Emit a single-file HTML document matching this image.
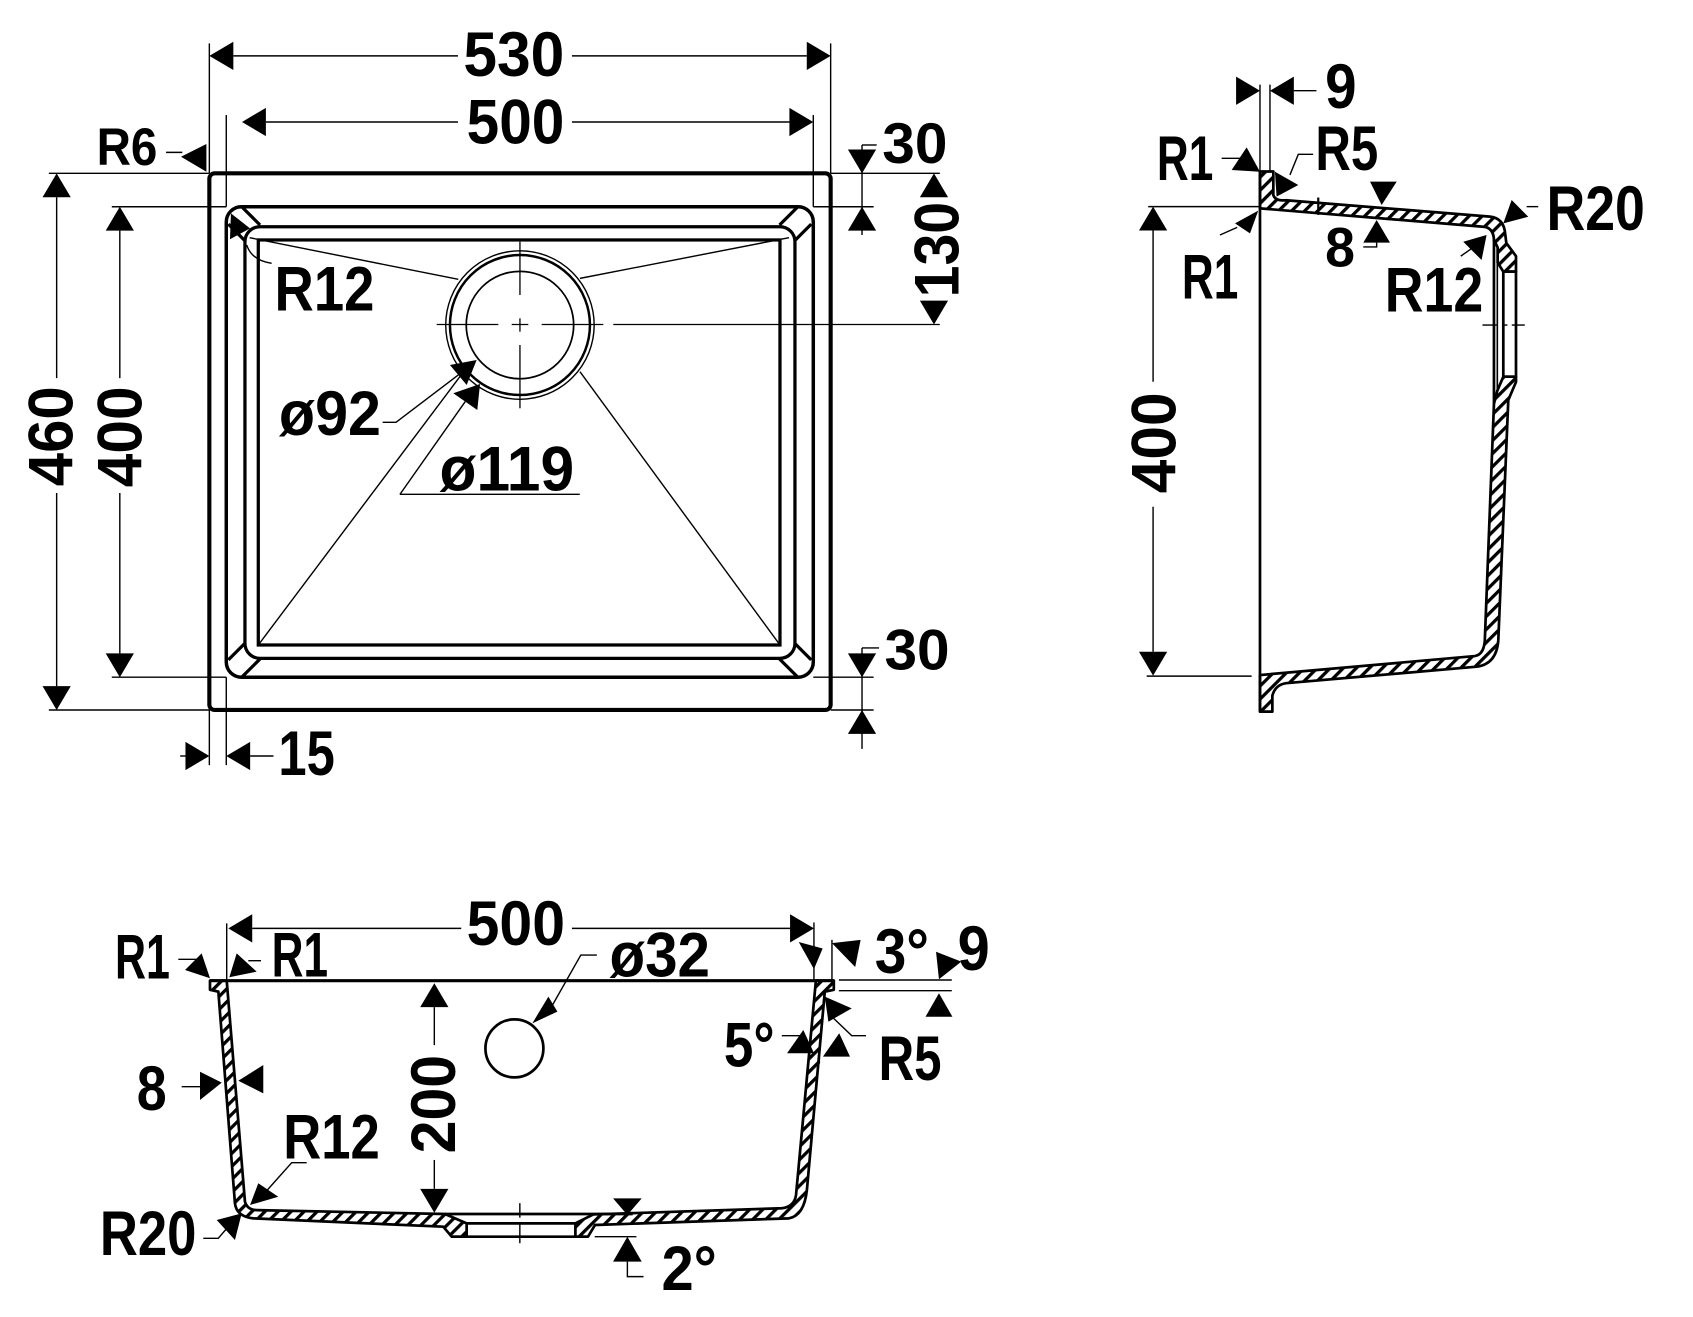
<!DOCTYPE html>
<html><head><meta charset="utf-8"><style>html,body{margin:0;padding:0;background:#fff}svg{display:block}</style></head><body>
<svg width="1693" height="1317" viewBox="0 0 1560 1213.5" preserveAspectRatio="none" xmlns="http://www.w3.org/2000/svg">
<defs><pattern id="h" width="8.5" height="8.5" patternUnits="userSpaceOnUse" patternTransform="rotate(45)"><rect x="0" y="0" width="3" height="8.5" fill="#000"/></pattern></defs>
<rect width="1560" height="1213.5" fill="#fff"/>

<!-- ================= TOP VIEW ================= -->
<g fill="none" stroke="#000">
<rect x="192.9" y="159.7" width="572.5" height="494.5" rx="5" stroke-width="3.8"/>
<rect x="208.5" y="190.5" width="540.9" height="433.5" rx="14" stroke-width="3.2"/>
<rect x="225.7" y="208.9" width="506.8" height="397.7" rx="13.8" stroke-width="3"/>
<rect x="238" y="221.1" width="480.7" height="373.2" stroke-width="3"/>
<g stroke-width="3">
<line x1="210.4" y1="608" x2="225.7" y2="592.7"/><line x1="222.7" y1="624" x2="239.6" y2="607.2"/>
<line x1="210.4" y1="206.5" x2="225.7" y2="221.8"/><line x1="222.7" y1="190.5" x2="239.6" y2="207.3"/>
<line x1="747.5" y1="608" x2="732.2" y2="592.7"/><line x1="735.2" y1="624" x2="718.3" y2="607.2"/>
<line x1="747.5" y1="206.5" x2="732.2" y2="221.8"/><line x1="735.2" y1="190.5" x2="718.3" y2="207.3"/>
</g>
<g stroke-width="1.3">
<line x1="230" y1="219" x2="422.3" y2="257.4"/>
<line x1="727" y1="219" x2="534.4" y2="256.5"/>
<line x1="238" y1="594.3" x2="429.2" y2="339.8"/>
<line x1="718.7" y1="594.3" x2="534.4" y2="342.5"/>
<circle cx="479.1" cy="299.5" r="68.4"/>
<circle cx="479.1" cy="299.5" r="49.5" stroke-width="1.6"/>
</g>
<circle cx="479.1" cy="299.5" r="64.5" stroke-width="2.3"/>
<g stroke-width="1.2">
<line x1="402.4" y1="299" x2="459.2" y2="299"/><line x1="471.5" y1="299" x2="486.8" y2="299"/>
<line x1="499.1" y1="299" x2="555.9" y2="299"/><line x1="565.1" y1="299" x2="866" y2="299"/>
<line x1="479.1" y1="222.7" x2="479.1" y2="271.8"/><line x1="479.1" y1="293.3" x2="479.1" y2="305.6"/>
<line x1="479.1" y1="317.9" x2="479.1" y2="376.2"/>
</g>
<!-- dimension lines -->
<g stroke-width="1.3">
<line x1="215" y1="51.5" x2="422" y2="51.5"/><line x1="527" y1="51.5" x2="743.4" y2="51.5"/>
<line x1="192.9" y1="40" x2="192.9" y2="159.7"/><line x1="765.4" y1="40" x2="765.4" y2="159.7"/>
<line x1="245" y1="112.4" x2="422" y2="112.4"/><line x1="527" y1="112.4" x2="727.4" y2="112.4"/>
<line x1="208.5" y1="106" x2="208.5" y2="190.5"/><line x1="749.4" y1="106" x2="749.4" y2="190.5"/>
<line x1="153" y1="140.4" x2="168" y2="140.4"/>
<line x1="52.2" y1="181.7" x2="52.2" y2="348.4"/><line x1="52.2" y1="454.3" x2="52.2" y2="632.2"/>
<line x1="45" y1="159.7" x2="192.9" y2="159.7"/><line x1="45" y1="654.2" x2="192.9" y2="654.2"/>
<line x1="110.4" y1="212.5" x2="110.4" y2="348.4"/><line x1="110.4" y1="454.3" x2="110.4" y2="602"/>
<line x1="103" y1="190.5" x2="208.5" y2="190.5"/><line x1="103" y1="624" x2="208.5" y2="624"/>
<line x1="794.3" y1="133.6" x2="794.3" y2="216.5"/><line x1="794.3" y1="133.6" x2="807.8" y2="133.6"/>
<line x1="765.4" y1="159.7" x2="866" y2="159.7"/><line x1="749.4" y1="190.5" x2="805" y2="190.5"/>
<line x1="794.3" y1="597" x2="794.3" y2="690"/><line x1="794.3" y1="597" x2="810" y2="597"/>
<line x1="749.4" y1="624" x2="805" y2="624"/><line x1="765.4" y1="654.2" x2="805" y2="654.2"/>
<line x1="192.9" y1="654.2" x2="192.9" y2="705"/><line x1="208.5" y1="624" x2="208.5" y2="705"/>
<line x1="166" y1="696.6" x2="171" y2="696.6"/><line x1="230.5" y1="696.6" x2="252" y2="696.6"/>
<path d="M227.3,225.7 Q232,240 250.3,242.6"/>
<polyline points="352.6,389.1 364.9,389.1 422.3,345.5"/>
<line x1="368.5" y1="455.5" x2="534.2" y2="455.5"/><line x1="368.5" y1="455.5" x2="428.7" y2="370"/>
</g>
</g>
<g fill="#000">
<polygon points="192.9,51.5 215,38.5 215,64.5"/><polygon points="765.4,51.5 743.4,38.5 743.4,64.5"/>
<polygon points="223,112.4 245,99.4 245,125.4"/><polygon points="749.4,112.4 727.4,99.4 727.4,125.4"/>
<polygon points="166.8,144.4 190.2,132.7 190.2,158.2"/>
<polygon points="52.2,159.7 39.2,181.7 65.2,181.7"/><polygon points="52.2,654.2 39.2,632.2 65.2,632.2"/>
<polygon points="110.4,190.5 97.4,212.5 123.4,212.5"/><polygon points="110.4,624 97.4,602 123.4,602"/>
<polygon points="794.3,159.7 781.3,137.7 807.3,137.7"/><polygon points="794.3,190.5 781.3,212.5 807.3,212.5"/>
<polygon points="860.6,159.7 847.6,181.7 873.6,181.7"/><polygon points="860.6,299 847.6,277 873.6,277"/>
<polygon points="794.3,624 781.3,602 807.3,602"/><polygon points="794.3,654.2 781.3,676.2 807.3,676.2"/>
<polygon points="192.9,696.6 170.9,683.6 170.9,709.6"/><polygon points="208.5,696.6 230.5,683.6 230.5,709.6"/>
<polygon points="212.8,196.6 230.4,210.4 211.9,220.5"/>
<polygon points="439.2,331.7 414.6,336.3 430,354.7"/>
<polygon points="442.3,353.8 417.7,362.4 439.8,377.8"/>
</g>

<!-- ================= SIDE VIEW ================= -->
<g stroke="#000" stroke-width="2.5" stroke-linejoin="round">
<path fill="url(#h)" d="M1161,158 L1173.3,158 L1173.3,179.7 Q1175,185.5 1185,184.5 L1372.9,199.6 Q1386,201 1387,216 L1388,224 L1396.9,236 L1396.9,250.3 L1385.2,250.3 L1380,242 L1380,228 L1376.6,221 Q1376,209.5 1366.7,208.9 L1161,192 Z"/>
<path fill="url(#h)" d="M1376.6,372 L1379.7,360 L1385.2,347.1 L1396.9,347.1 L1396.9,352 L1389.8,368.6 L1380.6,590 Q1379,612 1360.6,614.3 L1185,629.5 Q1175,631 1172.4,641 L1172.4,655.7 L1161,655.7 L1161,622 L1359,604.5 Q1368.3,603 1368.3,586.6 Z"/>
<rect x="1385.2" y="250.3" width="11.7" height="96.8" fill="none"/>
<line x1="1161" y1="158" x2="1161" y2="655.7"/>
<line x1="1376.6" y1="221" x2="1376.6" y2="372"/>
<line x1="1379.7" y1="240" x2="1379.7" y2="360" stroke-width="1.5"/>
</g>
<g fill="none" stroke="#000" stroke-width="1.3">
<line x1="1214.7" y1="182" x2="1214.7" y2="198" stroke-width="2"/>
<line x1="1366" y1="299.5" x2="1380" y2="299.5"/><line x1="1384" y1="299.5" x2="1389" y2="299.5"/><line x1="1393" y1="299.5" x2="1405" y2="299.5"/>
<line x1="1161" y1="78" x2="1161" y2="158"/><line x1="1170.2" y1="78" x2="1170.2" y2="158"/>
<line x1="1192.2" y1="83.6" x2="1213" y2="83.6"/>
<line x1="1125.7" y1="145.9" x2="1142.6" y2="145.9"/>
<polyline points="1210,142.2 1196.3,142.2 1188.6,161.2"/>
<polyline points="1256.2,227.5 1268.5,227.5 1268.5,223.6"/>
<line x1="1417.4" y1="190.4" x2="1406.7" y2="190.4"/>
<line x1="1346" y1="236" x2="1356" y2="229"/>
<line x1="1124.1" y1="216.5" x2="1140" y2="209.5"/>
<line x1="1062.5" y1="212.4" x2="1062.5" y2="351.7"/><line x1="1062.5" y1="466.9" x2="1062.5" y2="600.5"/>
<line x1="1058" y1="190.4" x2="1161" y2="190.4"/><line x1="1056.6" y1="623" x2="1153.3" y2="623"/>
</g>
<g fill="#000">
<polygon points="1161,83.6 1139,70.6 1139,96.6"/><polygon points="1170.2,83.6 1192.2,70.6 1192.2,96.6"/>
<polygon points="1134.9,156.6 1148.7,135.8 1161,158.2"/>
<polygon points="1174.8,158.2 1196.3,170.5 1176.3,181.2"/>
<polygon points="1273.1,188.9 1262.4,167.4 1287,167.4"/>
<polygon points="1268.5,202.7 1256.2,223.6 1280.8,223.6"/>
<polygon points="1385.2,205.8 1392.9,184.3 1408.2,199.7"/>
<polygon points="1369.8,216.5 1348.3,222.7 1365.2,239.6"/>
<polygon points="1159.4,194.1 1138,205.8 1151.8,215"/>
<polygon points="1062.5,190.4 1049.5,212.4 1075.5,212.4"/><polygon points="1062.5,622.5 1049.5,600.5 1075.5,600.5"/>
</g>

<!-- ================= FRONT SECTION ================= -->
<g stroke="#000" stroke-width="2.5" stroke-linejoin="round">
<line x1="193.5" y1="903.6" x2="768.3" y2="903.6" stroke-width="2.8"/>
<path fill="url(#h)" d="M193.5,903.6 L208.9,903.6 L225.7,1107.2 Q228,1115 236.5,1115 L410,1118.6 L430,1127.2 L430,1139.5 L416.2,1139.5 L408.5,1130.3 L233.4,1122.6 Q218,1121 216.5,1108.8 L201.2,913.7 L193.5,912 Z"/>
<path fill="url(#h)" d="M751.8,903.6 L768.3,903.6 L768.3,912 L760,913.7 L743.5,1096.5 Q741,1120 727,1122.6 L548.3,1128.7 L541.8,1139.5 L530.2,1139.5 L530.2,1127.2 L546.7,1119 L720.3,1113.3 Q732,1112 733.5,1101 Z"/>
<line x1="410" y1="1118.6" x2="583" y2="1118.6"/>
<line x1="430" y1="1127.2" x2="530.2" y2="1127.2"/>
<line x1="416.2" y1="1139.5" x2="541.8" y2="1139.5"/>
<circle cx="474" cy="966" r="26.7" fill="none"/>
</g>
<g fill="none" stroke="#000" stroke-width="1.3">
<line x1="479" y1="1108.6" x2="479" y2="1122"/><line x1="479" y1="1126" x2="479" y2="1145.5"/>
<line x1="232.4" y1="855.4" x2="425" y2="855.4"/><line x1="527" y1="855.4" x2="728" y2="855.4"/>
<line x1="208.9" y1="850.8" x2="208.9" y2="903.6"/><line x1="750" y1="850" x2="750" y2="903.6"/>
<line x1="766.6" y1="866" x2="766.6" y2="903"/>
<line x1="773" y1="903" x2="877" y2="903"/><line x1="773" y1="912.8" x2="877" y2="912.8"/>
<polyline points="798,954.3 784.8,954.3 766.6,936.8"/>
<line x1="720.4" y1="954.3" x2="736.9" y2="954.3"/>
<line x1="755" y1="964" x2="755" y2="980"/>
<polyline points="578.1,1162.5 578.1,1176.3 593,1176.3"/>
<line x1="548" y1="1139.5" x2="586.4" y2="1139.5"/>
<polyline points="550,880 535.2,880 508,928"/>
<line x1="400.2" y1="928" x2="400.2" y2="963"/><line x1="400.2" y1="1068.8" x2="400.2" y2="1095.4"/>
<line x1="164.3" y1="883.9" x2="184.3" y2="883.9"/>
<line x1="240.5" y1="885.2" x2="228.8" y2="885.2"/>
<line x1="167.4" y1="1001.3" x2="184.3" y2="1001.3"/>
<polyline points="282.6,1071.3 268.8,1071.3 245,1098"/>
<polyline points="187.3,1141 201.1,1141 208,1133"/>
</g>
<g fill="#000">
<polygon points="210.4,855.4 232.4,842.4 232.4,868.4"/><polygon points="750,855.4 728,842.4 728,868.4"/>
<polygon points="736,868 758,874 750,893"/><polygon points="766.6,869 793,866 788,891"/>
<polygon points="862.5,876.9 885.8,886.1 865.2,902.3"/><polygon points="865.2,915.2 852.8,936.8 877.6,936.8"/>
<polygon points="760,918.3 784.8,929.1 763.3,941.4"/>
<polygon points="725.2,970.5 740.2,949 750.1,970.5"/><polygon points="758.3,973.6 773.3,952.1 783.2,973.6"/>
<polygon points="578.1,1119.5 564.9,1104.2 591.3,1104.2"/><polygon points="578.1,1139.5 564.9,1162.5 591.3,1162.5"/>
<polygon points="490.5,942.9 505.3,918.3 513.6,932.1"/>
<polygon points="400.2,906 387.2,928 413.2,928"/><polygon points="400.2,1117.4 387.2,1095.4 413.2,1095.4"/>
<polygon points="170.5,893.8 185.8,878.4 193.5,901.4"/>
<polygon points="211.3,900.5 218.1,878.4 236.5,895.3"/>
<polygon points="204.3,997.6 184.3,987.5 184.3,1013.5"/>
<polygon points="219.6,995.8 242.6,981.3 242.6,1007.4"/>
<polygon points="230.4,1110.3 238,1090.3 256.4,1102.7"/>
<polygon points="222.7,1118 199.7,1124.1 216.5,1142.6"/>
</g>

<!-- ================= TEXT ================= -->
<g font-family="'Liberation Sans', Arial, sans-serif" font-weight="bold" fill="#000" font-size="58" lengthAdjust="spacingAndGlyphs">
<text x="427" y="70" textLength="93" lengthAdjust="spacingAndGlyphs">530</text>
<text x="430" y="132" textLength="90" lengthAdjust="spacingAndGlyphs">500</text>
<text x="89" y="152" textLength="56" lengthAdjust="spacingAndGlyphs" font-size="49">R6</text>
<text x="813" y="150" textLength="60" lengthAdjust="spacingAndGlyphs" font-size="53">30</text>
<text transform="translate(883,274) rotate(-90)" x="0" y="0" textLength="88" lengthAdjust="spacingAndGlyphs">130</text>
<text x="253" y="286" textLength="92" lengthAdjust="spacingAndGlyphs">R12</text>
<text x="257" y="401" textLength="94" lengthAdjust="spacingAndGlyphs">ø92</text>
<text x="405" y="452" textLength="124" lengthAdjust="spacingAndGlyphs">ø119</text>
<text transform="translate(67,448) rotate(-90)" x="0" y="0" textLength="92" lengthAdjust="spacingAndGlyphs">460</text>
<text transform="translate(130.5,449) rotate(-90)" x="0" y="0" textLength="93" lengthAdjust="spacingAndGlyphs">400</text>
<text x="815" y="617" textLength="60" lengthAdjust="spacingAndGlyphs" font-size="53">30</text>
<text x="256.5" y="714" textLength="52" lengthAdjust="spacingAndGlyphs">15</text>

<text x="1221" y="99.5" textLength="29" lengthAdjust="spacingAndGlyphs">9</text>
<text x="1066" y="166" textLength="52" lengthAdjust="spacingAndGlyphs">R1</text>
<text x="1212" y="156.6" textLength="58" lengthAdjust="spacingAndGlyphs">R5</text>
<text x="1221" y="245.7" textLength="27.5" lengthAdjust="spacingAndGlyphs" font-size="51">8</text>
<text x="1425" y="212" textLength="90.7" lengthAdjust="spacingAndGlyphs">R20</text>
<text x="1276" y="287" textLength="90.7" lengthAdjust="spacingAndGlyphs">R12</text>
<text x="1089" y="275" textLength="52" lengthAdjust="spacingAndGlyphs">R1</text>
<text transform="translate(1083,454.5) rotate(-90)" x="0" y="0" textLength="93" lengthAdjust="spacingAndGlyphs">400</text>

<text x="430" y="870.7" textLength="90.6" lengthAdjust="spacingAndGlyphs">500</text>
<text x="106" y="901.4" textLength="50.6" lengthAdjust="spacingAndGlyphs">R1</text>
<text x="250.3" y="900" textLength="52" lengthAdjust="spacingAndGlyphs">R1</text>
<text x="561.6" y="900" textLength="92.6" lengthAdjust="spacingAndGlyphs">ø32</text>
<text x="806" y="896.6" textLength="50" lengthAdjust="spacingAndGlyphs">3°</text>
<text x="882.4" y="893.8" textLength="29.6" lengthAdjust="spacingAndGlyphs">9</text>
<text x="809.6" y="995" textLength="58" lengthAdjust="spacingAndGlyphs">R5</text>
<text x="667" y="982.8" textLength="46.7" lengthAdjust="spacingAndGlyphs">5°</text>
<text x="126" y="1022.8" textLength="27.6" lengthAdjust="spacingAndGlyphs">8</text>
<text transform="translate(419.2,1062.7) rotate(-90)" x="0" y="0" textLength="90.7" lengthAdjust="spacingAndGlyphs">200</text>
<text x="261" y="1067.3" textLength="89" lengthAdjust="spacingAndGlyphs">R12</text>
<text x="92" y="1156.4" textLength="89" lengthAdjust="spacingAndGlyphs">R20</text>
<text x="609.5" y="1188.6" textLength="51" lengthAdjust="spacingAndGlyphs">2°</text>
</g>
</svg>
</body></html>
